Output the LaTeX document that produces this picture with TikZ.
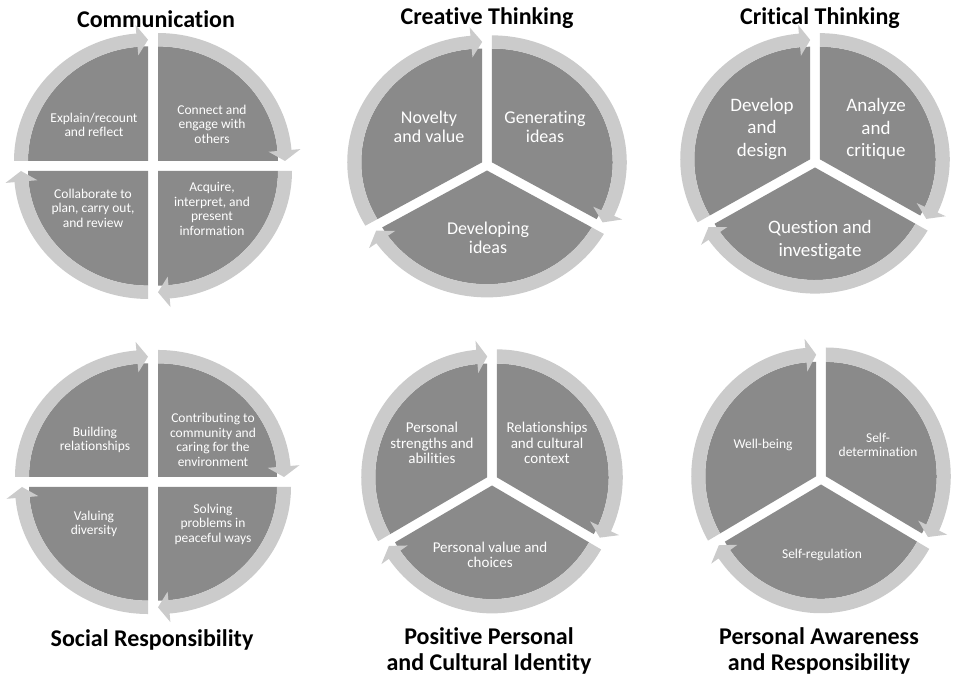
\documentclass[tikz,border=0pt]{standalone}
\usepackage{fontspec}
\setmainfont{Carlito}[Ligatures=NoCommon]
\usetikzlibrary{calc}

\definecolor{segdark}{RGB}{138,138,138}
\definecolor{seglight}{RGB}{203,203,203}

\begin{document}
\begin{tikzpicture}[x=1pt,y=1pt,
    title/.style={font=\bfseries\fontsize{24}{25.5}\selectfont, align=center},
    smalllab/.style={text=white, align=center, font=\fontsize{13.5}{14.5}\selectfont},
    midlab/.style={text=white, align=center, font=\fontsize{15}{15.5}\selectfont},
    biglab/.style={text=white, align=center, font=\fontsize{18}{19.5}\selectfont}]
    \useasboundingbox (0,0) rectangle (953,677);

    \coordinate (Comm)   at (153,511);
    \coordinate (Creat)  at (487,512);
    \coordinate (Crit)   at (815,515);
    \coordinate (Social) at (153,195);
    \coordinate (Ident)  at (492,197);
    \coordinate (Aware)  at (821,198);

    % four-part cycles: x radius, y/x ratio
    \foreach \cx/\cy/\ro/\sy in {153/511/134/0.955, 153/195/133/0.955}{
      \foreach \a/\b/\m in {180/90/135, 90/0/45, 0/-90/-45, 270/180/225}{
        \pgfmathsetmacro{\ri}{\ro-14}%
        \pgfmathsetmacro{\rm}{\ro-7}%
        \pgfmathsetmacro{\rob}{\ro+9}%
        \pgfmathsetmacro{\rib}{\ro-23}%
        \pgfmathsetmacro{\bh}{\b+5}%
        \begin{scope}[shift={(\cx,\cy)}, shift={(\m:7.07)}, yscale=\sy]
          \fill[segdark] (0,0) -- (\a:\ri) arc[start angle=\a, end angle=\b, radius=\ri] -- cycle;
          \fill[seglight] (\a:\ro) arc[start angle=\a, end angle=\bh, radius=\ro]
            -- (\bh:\rob) -- (\b:\rm) -- (\bh:\rib) -- (\bh:\ri)
            arc[start angle=\bh, end angle=\a, radius=\ri] -- cycle;
        \end{scope}
      }
    }

    % three-part cycles
    \foreach \cx/\cy/\ro/\sy in {487/512/135/0.94, 815/515/130/0.97, 492/197/126/1.015, 821/198/125/1.03}{
      \foreach \a/\b/\m in {210/90/150, 90/-30/30, 330/210/270}{
        \pgfmathsetmacro{\ri}{\ro-14}%
        \pgfmathsetmacro{\rm}{\ro-7}%
        \pgfmathsetmacro{\rob}{\ro+9}%
        \pgfmathsetmacro{\rib}{\ro-23}%
        \pgfmathsetmacro{\bh}{\b+5}%
        \begin{scope}[shift={(\cx,\cy)}, shift={(\m:5.5)}, yscale=\sy]
          \fill[segdark] (0,0) -- (\a:\ri) arc[start angle=\a, end angle=\b, radius=\ri] -- cycle;
          \fill[seglight] (\a:\ro) arc[start angle=\a, end angle=\bh, radius=\ro]
            -- (\bh:\rob) -- (\b:\rm) -- (\bh:\rib) -- (\bh:\ri)
            arc[start angle=\bh, end angle=\a, radius=\ri] -- cycle;
        \end{scope}
      }
    }

    % titles
    \node[title] (commT)   at (156,658) {Communication};
    \node[title] (creatT)  at (487,659) {Creative Thinking};
    \node[title] (critT)   at (820,659) {Critical Thinking};
    \node[title] (socialT) at (152,37)  {Social Responsibility};
    \node[title] (identT)  at (489,26)  {Positive Personal\\and Cultural Identity};
    \node[title] (awareT)  at (819,26)  {Personal Awareness\\and Responsibility};

    % segment texts
    \node[smalllab] (comm1) at ($(Comm)+(-59,41)$)  {Explain/recount\\and reflect};
    \node[smalllab] (comm2) at ($(Comm)+(59,42)$)   {Connect and\\engage with\\others};
    \node[smalllab] (comm3) at ($(Comm)+(59,-43)$)  {Acquire,\\interpret, and\\present\\information};
    \node[smalllab] (comm4) at ($(Comm)+(-60,-42)$) {Collaborate to\\plan, carry out,\\and review};

    \node[biglab] (creat1) at ($(Creat)+(-58,38)$) {Novelty\\and value};
    \node[biglab] (creat2) at ($(Creat)+(58,38)$)  {Generating\\ideas};
    \node[biglab] (creat3) at ($(Creat)+(1,-73)$)  {Developing\\ideas};

    \node[biglab, font=\fontsize{19}{22.5}\selectfont] (crit1) at ($(Crit)+(-53,33)$) {Develop\\and\\design};
    \node[biglab, font=\fontsize{19}{22.5}\selectfont] (crit2) at ($(Crit)+(61,33)$)  {Analyze\\and\\critique};
    \node[biglab, font=\fontsize{19}{22.5}\selectfont] (crit3) at ($(Crit)+(5,-78)$)  {Question and\\investigate};

    \node[smalllab] (social1) at ($(Social)+(-58,42)$)  {Building\\relationships};
    \node[smalllab] (social2) at ($(Social)+(60,42)$)   {Contributing to\\community and\\caring for the\\environment};
    \node[smalllab] (social3) at ($(Social)+(60,-42)$)  {Solving\\problems in\\peaceful ways};
    \node[smalllab] (social4) at ($(Social)+(-59,-42)$) {Valuing\\diversity};

    \node[midlab] (ident1) at ($(Ident)+(-60,37)$) {Personal\\strengths and\\abilities};
    \node[midlab] (ident2) at ($(Ident)+(55,37)$)  {Relationships\\and cultural\\context};
    \node[midlab] (ident3) at ($(Ident)+(-2,-75)$) {Personal value and\\choices};

    \node[smalllab] (aware1) at ($(Aware)+(-58,34)$) {Well-being};
    \node[smalllab] (aware2) at ($(Aware)+(57,34)$)  {Self-\\determination};
    \node[smalllab] (aware3) at ($(Aware)+(1,-76)$)  {Self-regulation};
\end{tikzpicture}
\end{document}
